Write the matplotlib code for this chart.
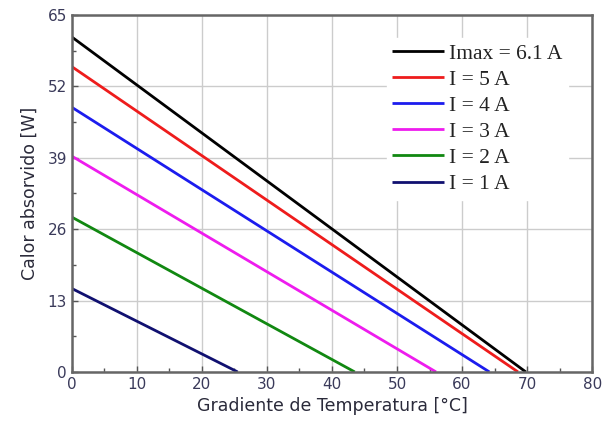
import matplotlib
matplotlib.use("Agg")
import matplotlib.pyplot as plt
from matplotlib.ticker import MultipleLocator

labels = ["Imax = 6.1 A", "I = 5 A", "I = 4 A", "I = 3 A", "I = 2 A", "I = 1 A"]
colors = ["#000000", "#ee1c1c", "#1c1cee", "#ee1cee", "#118811", "#101070"]
q_at_zero = [61.0, 55.6, 48.2, 39.3, 28.2, 15.2]     # Calor absorvido at dT = 0
dt_at_zero = [69.8, 68.6, 64.2, 56.0, 43.5, 25.5]    # dT where Q reaches 0

xticks = [0, 10, 20, 30, 40, 50, 60, 70, 80]
yticks = [0, 13, 26, 39, 52, 65]

fig = plt.figure(figsize=(6.03, 4.28), dpi=100)
ax = fig.add_axes([0.119, 0.131, 0.863, 0.834])

for lab, c, q0, dt0 in zip(labels, colors, q_at_zero, dt_at_zero):
    ax.plot([0, dt0], [q0, 0], color=c, lw=2.0, label=lab, solid_capstyle="butt")

ax.set_xlim(0, 80)
ax.set_ylim(0, 65)
ax.set_xticks(xticks)
ax.set_yticks(yticks)
ax.xaxis.set_minor_locator(MultipleLocator(5))
ax.yaxis.set_minor_locator(MultipleLocator(6.5))
ax.grid(True, which="major", color="#cccccc", lw=1.0)
ax.set_axisbelow(True)
ax.tick_params(which="both", direction="in", colors="#555555", labelcolor="#3a3a5a",
               labelsize=11)
ax.tick_params(which="major", length=4, width=1)
ax.tick_params(which="minor", length=3, width=1)
for s in ax.spines.values():
    s.set_color("#666666")
    s.set_linewidth(1.8)

ax.set_xlabel("Gradiente de Temperatura [°C]", fontsize=12.5, color="#2a2a3a", labelpad=4)
ax.set_ylabel("Calor absorvido [W]", fontsize=12.5, color="#2a2a3a", labelpad=6)

leg = ax.legend(loc="upper left", bbox_to_anchor=(0.605, 0.935), frameon=True,
                prop={"family": "Liberation Serif", "size": 15.5},
                handlelength=2.4, handletextpad=0.25, labelspacing=0.28,
                borderpad=0.25, borderaxespad=0.0, fancybox=False)
leg.get_frame().set_edgecolor("white")
leg.get_frame().set_facecolor("white")
leg.get_frame().set_alpha(1.0)
for t in leg.get_texts():
    t.set_color("#222222")

fig.savefig("out.png", dpi=100)
